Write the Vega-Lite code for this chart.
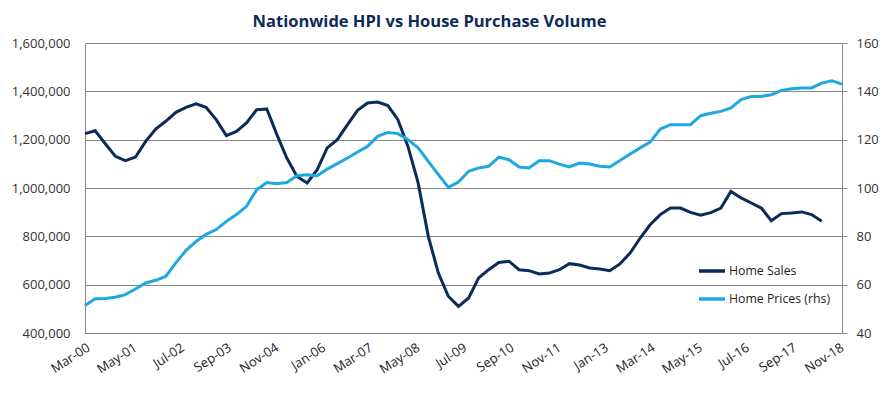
{
  "$schema": "https://vega.github.io/schema/vega-lite/v6.json",
  "autosize": "none",
  "width": 757,
  "height": 290,
  "padding": {"left": 85, "top": 43, "right": 46, "bottom": 70},
  "background": "white",
  "title": {
    "text": "Nationwide HPI vs House Purchase Volume",
    "font": "Open Sans",
    "fontSize": 16.5,
    "fontWeight": "bold",
    "color": "#0d2b57",
    "anchor": "middle",
    "offset": 7,
    "dx": -34
  },
  "config": {
    "view": {"stroke": null},
    "axis": {
      "labelFont": "Open Sans",
      "labelFontSize": 13,
      "labelColor": "#333333",
      "domainColor": "#8a8a8a",
      "gridColor": "#8a8a8a",
      "tickColor": "#8a8a8a",
      "title": null
    }
  },
  "data": {
    "values": [
      {"date": "2000/03/01", "sales": 1225000, "prices": 51.4},
      {"date": "2000/06/01", "sales": 1237000, "prices": 54.2},
      {"date": "2000/09/01", "sales": 1183000, "prices": 54.3},
      {"date": "2000/12/01", "sales": 1131000, "prices": 54.8},
      {"date": "2001/03/01", "sales": 1113000, "prices": 55.9},
      {"date": "2001/06/01", "sales": 1128000, "prices": 58.2},
      {"date": "2001/09/01", "sales": 1193000, "prices": 60.7},
      {"date": "2001/12/01", "sales": 1244000, "prices": 61.8},
      {"date": "2002/03/01", "sales": 1276000, "prices": 63.4},
      {"date": "2002/06/01", "sales": 1313000, "prices": 69.0},
      {"date": "2002/09/01", "sales": 1334000, "prices": 74.2},
      {"date": "2002/12/01", "sales": 1348000, "prices": 77.9},
      {"date": "2003/03/01", "sales": 1334000, "prices": 80.8},
      {"date": "2003/06/01", "sales": 1283000, "prices": 82.8},
      {"date": "2003/09/01", "sales": 1217000, "prices": 86.2},
      {"date": "2003/12/01", "sales": 1234000, "prices": 89.0},
      {"date": "2004/03/01", "sales": 1269000, "prices": 92.4},
      {"date": "2004/06/01", "sales": 1324000, "prices": 99.3},
      {"date": "2004/09/01", "sales": 1327000, "prices": 102.3},
      {"date": "2004/12/01", "sales": 1221000, "prices": 101.8},
      {"date": "2005/03/01", "sales": 1124000, "prices": 102.3},
      {"date": "2005/06/01", "sales": 1048000, "prices": 105.1},
      {"date": "2005/09/01", "sales": 1021000, "prices": 105.5},
      {"date": "2005/12/01", "sales": 1076000, "prices": 105.1},
      {"date": "2006/03/01", "sales": 1166000, "prices": 107.8},
      {"date": "2006/06/01", "sales": 1200000, "prices": 110.1},
      {"date": "2006/09/01", "sales": 1262000, "prices": 112.4},
      {"date": "2006/12/01", "sales": 1321000, "prices": 114.9},
      {"date": "2007/03/01", "sales": 1352000, "prices": 117.2},
      {"date": "2007/06/01", "sales": 1356000, "prices": 121.4},
      {"date": "2007/09/01", "sales": 1341000, "prices": 123.0},
      {"date": "2007/12/01", "sales": 1283000, "prices": 122.5},
      {"date": "2008/03/01", "sales": 1172000, "prices": 120.0},
      {"date": "2008/06/01", "sales": 1021000, "prices": 116.6},
      {"date": "2008/09/01", "sales": 800000, "prices": 111.0},
      {"date": "2008/12/01", "sales": 648000, "prices": 105.5},
      {"date": "2009/03/01", "sales": 552000, "prices": 100.3},
      {"date": "2009/06/01", "sales": 510000, "prices": 102.5},
      {"date": "2009/09/01", "sales": 545000, "prices": 106.9},
      {"date": "2009/12/01", "sales": 628000, "prices": 108.3},
      {"date": "2010/03/01", "sales": 662000, "prices": 109.0},
      {"date": "2010/06/01", "sales": 692000, "prices": 112.8},
      {"date": "2010/09/01", "sales": 697000, "prices": 111.7},
      {"date": "2010/12/01", "sales": 662000, "prices": 108.7},
      {"date": "2011/03/01", "sales": 658000, "prices": 108.3},
      {"date": "2011/06/01", "sales": 644000, "prices": 111.3},
      {"date": "2011/09/01", "sales": 648000, "prices": 111.3},
      {"date": "2011/12/01", "sales": 662000, "prices": 109.9},
      {"date": "2012/03/01", "sales": 687000, "prices": 108.7},
      {"date": "2012/06/01", "sales": 681000, "prices": 110.3},
      {"date": "2012/09/01", "sales": 669000, "prices": 109.9},
      {"date": "2012/12/01", "sales": 665000, "prices": 109.0},
      {"date": "2013/03/01", "sales": 658000, "prices": 108.7},
      {"date": "2013/06/01", "sales": 686000, "prices": 111.4},
      {"date": "2013/09/01", "sales": 731000, "prices": 114.1},
      {"date": "2013/12/01", "sales": 793000, "prices": 116.6},
      {"date": "2014/03/01", "sales": 848000, "prices": 119.0},
      {"date": "2014/06/01", "sales": 890000, "prices": 124.4},
      {"date": "2014/09/01", "sales": 917000, "prices": 126.2},
      {"date": "2014/12/01", "sales": 917000, "prices": 126.2},
      {"date": "2015/03/01", "sales": 899000, "prices": 126.2},
      {"date": "2015/06/01", "sales": 887000, "prices": 129.9},
      {"date": "2015/09/01", "sales": 898000, "prices": 130.9},
      {"date": "2015/12/01", "sales": 917000, "prices": 131.7},
      {"date": "2016/03/01", "sales": 986000, "prices": 133.1},
      {"date": "2016/06/01", "sales": 959000, "prices": 136.6},
      {"date": "2016/09/01", "sales": 938000, "prices": 137.9},
      {"date": "2016/12/01", "sales": 917000, "prices": 137.9},
      {"date": "2017/03/01", "sales": 865000, "prices": 138.6},
      {"date": "2017/06/01", "sales": 894000, "prices": 140.4},
      {"date": "2017/09/01", "sales": 897000, "prices": 141.1},
      {"date": "2017/12/01", "sales": 901000, "prices": 141.4},
      {"date": "2018/03/01", "sales": 890000, "prices": 141.4},
      {"date": "2018/06/01", "sales": 862000, "prices": 143.4},
      {"date": "2018/09/01", "sales": null, "prices": 144.4},
      {"date": "2018/12/01", "sales": null, "prices": 143.0}
    ]
  },
  "encoding": {
    "x": {
      "field": "date",
      "type": "temporal",
      "scale": {"domain": [{"year": 2000, "month": 3, "date": 1}, {"year": 2018, "month": 12, "date": 1}]},
      "axis": {
        "values": [
          {"year": 2000, "month": 3, "date": 1},
          {"year": 2001, "month": 5, "date": 1},
          {"year": 2002, "month": 7, "date": 1},
          {"year": 2003, "month": 9, "date": 1},
          {"year": 2004, "month": 11, "date": 1},
          {"year": 2006, "month": 1, "date": 1},
          {"year": 2007, "month": 3, "date": 1},
          {"year": 2008, "month": 5, "date": 1},
          {"year": 2009, "month": 7, "date": 1},
          {"year": 2010, "month": 9, "date": 1},
          {"year": 2011, "month": 11, "date": 1},
          {"year": 2013, "month": 1, "date": 1},
          {"year": 2014, "month": 3, "date": 1},
          {"year": 2015, "month": 5, "date": 1},
          {"year": 2016, "month": 7, "date": 1},
          {"year": 2017, "month": 9, "date": 1},
          {"year": 2018, "month": 11, "date": 1}
        ],
        "format": "%b-%y",
        "labelAngle": -33,
        "labelAlign": "right",
        "labelBaseline": "top",
        "labelPadding": 8,
        "ticks": false,
        "grid": false,
        "labelFontSize": 13,
        "labelColor": "#222222",
        "labelOverlap": false,
        "labelFlush": false
      }
    }
  },
  "layer": [
    {
      "mark": {"type": "line", "strokeWidth": 3, "interpolate": "linear"},
      "encoding": {
        "y": {
          "field": "sales",
          "type": "quantitative",
          "scale": {"domain": [400000, 1600000], "nice": false},
          "axis": {
            "orient": "left",
            "values": [400000, 600000, 800000, 1000000, 1200000, 1400000, 1600000],
            "format": ",d",
            "ticks": false,
            "grid": true,
            "labelPadding": 15
          }
        },
        "color": {"datum": "Home Sales"}
      }
    },
    {
      "mark": {"type": "line", "strokeWidth": 3, "interpolate": "linear"},
      "encoding": {
        "y": {
          "field": "prices",
          "type": "quantitative",
          "scale": {"domain": [40, 160], "nice": false},
          "axis": {
            "orient": "right",
            "values": [40, 60, 80, 100, 120, 140, 160],
            "ticks": true,
            "tickSize": 5,
            "grid": false,
            "labelPadding": 9
          }
        },
        "color": {
          "datum": "Home Prices (rhs)",
          "scale": {"domain": ["Home Sales", "Home Prices (rhs)"], "range": ["#0b2c5a", "#1ea8e0"]},
          "legend": {
            "orient": "none",
            "legendX": 612,
            "legendY": 213,
            "title": null,
            "direction": "vertical",
            "symbolType": "stroke",
            "symbolSize": 680,
            "symbolStrokeWidth": 3.5,
            "labelFont": "Open Sans",
            "labelFontSize": 12.3,
            "labelColor": "#222222",
            "labelOffset": 2,
            "rowPadding": 6
          }
        }
      }
    }
  ],
  "resolve": {"scale": {"y": "independent"}}
}
